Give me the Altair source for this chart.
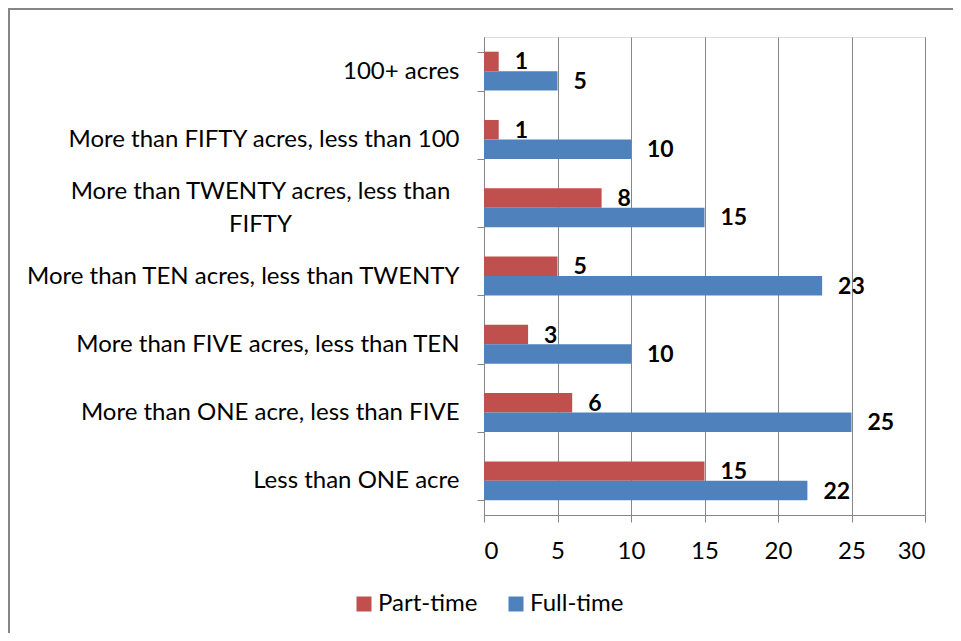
import altair as alt
import pandas as pd

categories = [
    "100+ acres",
    "More than FIFTY acres, less than 100",
    "More than TWENTY acres, less than FIFTY",
    "More than TEN acres, less than TWENTY",
    "More than FIVE acres, less than TEN",
    "More than ONE acre, less than FIVE",
    "Less than ONE acre",
]
series_names = ["Part-time", "Full-time"]
part_time = [1, 1, 8, 5, 3, 6, 15]
full_time = [5, 10, 15, 23, 10, 25, 22]
colors = ["#C0504D", "#4F81BD"]
x_ticks = [0, 5, 10, 15, 20, 25, 30]

rows = []
for c, p, f in zip(categories, part_time, full_time):
    rows.append({"category": c, "series": "Part-time", "value": p})
    rows.append({"category": c, "series": "Full-time", "value": f})
df = pd.DataFrame(rows)

FONT = "Lato"
GRAY = "#868686"
wrapped = "More than TWENTY acres, less than FIFTY"
is_wrapped = f"datum.value == '{wrapped}'"

y_enc = alt.Y(
    "category:N",
    sort=categories,
    scale=alt.Scale(paddingInner=0.43, paddingOuter=0.215),
    axis=alt.Axis(
        title=None,
        domainColor=GRAY,
        domainWidth=1,
        tickColor=GRAY,
        tickSize=7,
        tickBand="extent",
        labelFont=FONT,
        labelFontSize=24,
        labelColor="#000000",
        labelLimit=600,
        labelLineHeight=33,
        labelExpr=f"{is_wrapped} ? ['More than TWENTY acres, less than', 'FIFTY'] : datum.value",
        labelAlign={"condition": {"test": is_wrapped, "value": "center"}, "value": "right"},
        labelPadding={"condition": {"test": is_wrapped, "value": 217}, "value": 18},
        labelOffset={"condition": {"test": is_wrapped, "value": -16}, "value": 0},
    ),
)

x_enc = alt.X(
    "value:Q",
    scale=alt.Scale(domain=[0, 30], nice=False),
    axis=alt.Axis(
        title=None,
        values=x_ticks,
        grid=True,
        gridColor=GRAY,
        gridWidth=1,
        domainColor=GRAY,
        tickColor=GRAY,
        tickSize=7,
        labelFont=FONT,
        labelFontSize=24,
        labelColor="#000000",
        labelPadding=17,
    ),
)

bars = alt.Chart(df).mark_bar().encode(
    y=y_enc,
    x=x_enc,
    yOffset=alt.YOffset("series:N", sort=series_names, scale=alt.Scale(paddingInner=0, paddingOuter=0)),
    color=alt.Color(
        "series:N",
        scale=alt.Scale(domain=series_names, range=colors),
        legend=alt.Legend(
            title=None,
            orient="none",
            direction="horizontal",
            legendX=-132,
            legendY=555,
            symbolType="square",
            symbolSize=225,
            symbolStrokeWidth=0,
            labelFont=FONT,
            labelFontSize=24,
            labelColor="#000000",
            labelOffset=2,
            columnPadding=26,
        ),
    ),
)

labels = alt.Chart(df).mark_text(
    align="left", baseline="middle", dx=16, dy=1, font=FONT, fontSize=23, fontWeight="bold", color="#000000"
).encode(
    y=alt.Y("category:N", sort=categories),
    x="value:Q",
    yOffset=alt.YOffset("series:N", sort=series_names),
    text="value:Q",
)

frame_df = pd.DataFrame({"k": [0]})
left_border = alt.Chart(frame_df).mark_rule(color=GRAY, strokeWidth=2).encode(
    x=alt.value(-475), y=alt.value(-28), y2=alt.value(620)
)
top_border = alt.Chart(frame_df).mark_rule(color=GRAY, strokeWidth=2).encode(
    x=alt.value(-476), x2=alt.value(600), y=alt.value(-28)
)

chart = alt.layer(bars, labels, left_border, top_border).properties(
    width=441,
    height=478,
    autosize=alt.AutoSizeParams(type="none"),
    padding={"left": 476, "top": 29, "right": 28, "bottom": 118},
).configure_view(stroke=None).configure(background="white")

chart.save("out.html", embed_options={"renderer": "svg", "actions": False})
